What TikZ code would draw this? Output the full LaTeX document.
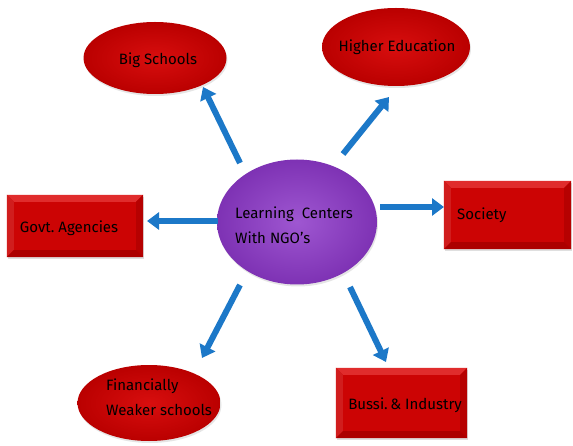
\documentclass[tikz,border=0pt]{standalone}
\usepackage{fontspec}
\setmainfont{Fira Sans}
\usetikzlibrary{shapes.geometric,arrows.meta,calc,shadows}
\definecolor{hubpurple}{RGB}{150,72,205}
\definecolor{hubdark}{RGB}{126,50,180}
\definecolor{boxred}{RGB}{204,4,4}
\definecolor{boxlight}{RGB}{224,44,44}
\definecolor{boxdark}{RGB}{172,0,0}
\definecolor{ovalin}{RGB}{216,14,14}
\definecolor{ovalout}{RGB}{186,0,0}
\definecolor{arrblue}{RGB}{28,120,200}
\tikzset{
  lbl/.style={font=\fontsize{15}{25}\selectfont, text=black, inner sep=0pt},
  hub/.style={ellipse, inner sep=0pt, shade, inner color=hubpurple!92!white, outer color=hubdark,
    drop shadow={opacity=0.2, shadow xshift=1pt, shadow yshift=-2pt}},
  oval/.style={ellipse, inner sep=0pt, shade, inner color=ovalin, outer color=ovalout,
    drop shadow={opacity=0.2, shadow xshift=1pt, shadow yshift=-2pt}},
  slab/.style={rectangle, inner sep=0pt, fill=boxred,
    drop shadow={opacity=0.25, shadow xshift=1pt, shadow yshift=-2pt}},
  spoke/.style={draw=arrblue, line width=6pt, -{Triangle[width=17pt,length=12pt]}},
}
% bevelled faces of a rectangular box
\newcommand\bevelbox[1]{%
  \fill[boxlight] (#1.north west) -- (#1.north east) -- ($(#1.north east)+(-7,7)$) -- ($(#1.north west)+(7,7)$) -- cycle;
  \fill[boxred!90!white] (#1.north west) -- (#1.south west) -- ($(#1.south west)+(7,-7)$) -- ($(#1.north west)+(7,7)$) -- cycle;
  \fill[boxdark!70!boxred] (#1.north east) -- (#1.south east) -- ($(#1.south east)+(-7,-7)$) -- ($(#1.north east)+(-7,7)$) -- cycle;
  \fill[boxdark] (#1.south west) -- (#1.south east) -- ($(#1.south east)+(-7,-7)$) -- ($(#1.south west)+(7,-7)$) -- cycle;
}
\begin{document}
\begin{tikzpicture}[x=1pt,y=-1pt]
\useasboundingbox (0,0) rectangle (573,446);
\fill[white] (0,0) rectangle (573,446);

% centre
\node[hub, minimum width=160, minimum height=125] (hub) at (297,222) {};
\node[lbl, align=left, anchor=north west] (hubtxt) at (235,207) {Learning\ \ Centers\\With NGO's};

% oval targets
\node[oval, minimum width=143, minimum height=72] (big) at (155,58) {};
\node[lbl] (bigtxt) at (158,60) {Big Schools};
\node[oval, minimum width=148, minimum height=78] (high) at (396,47) {};
\node[lbl] (hightxt) at (397,47) {Higher Education};
\node[oval, minimum width=143, minimum height=76] (weak) at (149,403) {};
\node[lbl, align=left, anchor=north west] (weaktxt) at (106,379) {Financially\\Weaker schools};

% box targets
\node[slab, minimum width=136, minimum height=62] (gov) at (75,226) {};
\bevelbox{gov}
\node[lbl] (govtxt) at (69,228) {Govt.\ Agencies};
\node[slab, minimum width=127, minimum height=68] (soc) at (507.5,215) {};
\bevelbox{soc}
\node[lbl, anchor=west] (soctxt) at (457,215) {Society};
\node[slab, minimum width=131, minimum height=70] (bus) at (401.5,403) {};
\bevelbox{bus}
\node[lbl] (bustxt) at (405,405) {Bussi.\,\&\ Industry};

% spoke end points
\coordinate (bigA) at (240,163);  \coordinate (bigB) at (203,87);
\coordinate (highA) at (343,154); \coordinate (highB) at (389,97);
\coordinate (govA) at (218,221);  \coordinate (govB) at (147,221);
\coordinate (socA) at (380,207);  \coordinate (socB) at (444,207);
\coordinate (busA) at (350,287);  \coordinate (busB) at (386,362);
\coordinate (weakA) at (240,285); \coordinate (weakB) at (202,358);

\foreach \t in {big,high,gov,soc,bus,weak}{
  \draw[spoke] (\t A) -- (\t B);
}
\end{tikzpicture}
\end{document}
